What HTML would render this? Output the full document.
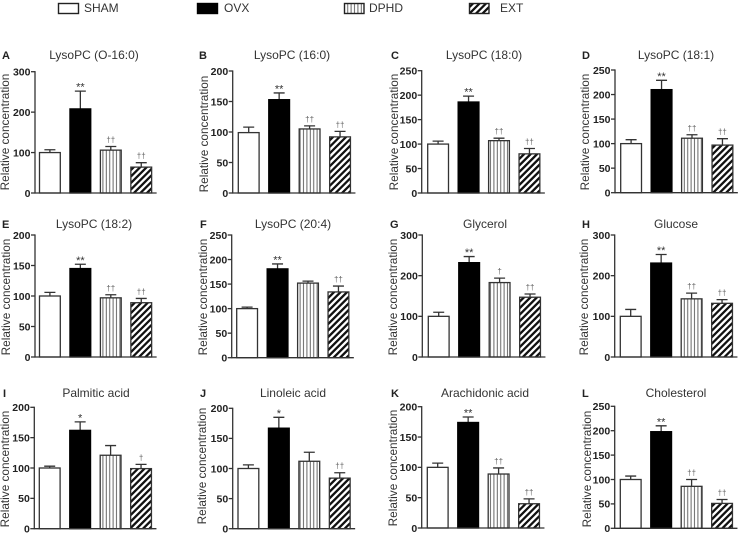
<!DOCTYPE html>
<html lang="en">
<head>
<meta charset="utf-8">
<title>Relative concentration panels</title>
<style>
html,body{margin:0;padding:0;background:#fff;}
svg{display:block;font-family:"Liberation Sans",sans-serif;}
.title{font-size:12px;fill:#333;text-anchor:middle;}
.letter{font-size:11px;font-weight:bold;fill:#222;}
.ytitle{font-size:11.8px;fill:#333;text-anchor:middle;}
.tick{font-size:10.5px;font-weight:bold;fill:#222;text-anchor:end;}
.legend{font-size:12px;fill:#333;}
.star{font-size:11px;fill:#333;text-anchor:middle;}
.dagger{font-size:8px;fill:#666;text-anchor:middle;}
</style>
</head>
<body>
<svg id="figure" width="740" height="534" viewBox="0 0 740 534" xmlns="http://www.w3.org/2000/svg">
<defs>
<pattern id="vstripes" patternUnits="userSpaceOnUse" width="3.4" height="4"><rect width="3.4" height="4" fill="#fff"/><rect x="0.4" width="1" height="4" fill="#666"/></pattern>
<pattern id="dstripes" patternUnits="userSpaceOnUse" width="4.6" height="6" patternTransform="rotate(45)"><rect width="4.6" height="6" fill="#fff"/><rect width="2.3" height="6" fill="#111"/></pattern>
</defs>

<g>
<g><rect x="58.5" y="3.5" width="20" height="10" fill="#fff" stroke="#222" stroke-width="1.4"/><text class="legend" x="84" y="12">SHAM</text></g>
<g><rect x="197.5" y="3.5" width="20" height="10" fill="#000" stroke="#000" stroke-width="1.4"/><text class="legend" x="224" y="12">OVX</text></g>
<g><rect x="344.5" y="3.5" width="19.5" height="10" fill="url(#vstripes)" stroke="#222" stroke-width="1.4"/><text class="legend" x="369" y="12">DPHD</text></g>
<g><rect x="469.5" y="3.5" width="19.5" height="10" fill="url(#dstripes)" stroke="#222" stroke-width="1.4"/><text class="legend" x="500" y="12">EXT</text></g>
</g>

<g id="panel-a"><text class="letter" x="2" y="59">A</text><text class="title" x="94" y="59">LysoPC (O-16:0)</text><text class="ytitle" transform="translate(9,132) rotate(-90)">Relative concentration</text></g>
<g id="panel-b"><text class="letter" x="199" y="59">B</text><text class="title" x="292" y="59">LysoPC (16:0)</text><text class="ytitle" transform="translate(208,134) rotate(-90)">Relative concentration</text></g>
<g id="panel-c"><text class="letter" x="391" y="59">C</text><text class="title" x="484" y="59">LysoPC (18:0)</text><text class="ytitle" transform="translate(398,132) rotate(-90)">Relative concentration</text></g>
<g id="panel-d"><text class="letter" x="582" y="59">D</text><text class="title" x="676" y="59">LysoPC (18:1)</text><text class="ytitle" transform="translate(589,132) rotate(-90)">Relative concentration</text></g>
<g id="panel-e"><text class="letter" x="2" y="228">E</text><text class="title" x="94" y="228">LysoPC (18:2)</text><text class="ytitle" transform="translate(10,297) rotate(-90)">Relative concentration</text></g>
<g id="panel-f"><text class="letter" x="200" y="228">F</text><text class="title" x="293" y="228">LysoPC (20:4)</text><text class="ytitle" transform="translate(207,297) rotate(-90)">Relative concentration</text></g>
<g id="panel-g"><text class="letter" x="390" y="228">G</text><text class="title" x="485" y="228">Glycerol</text><text class="ytitle" transform="translate(397,297) rotate(-90)">Relative concentration</text></g>
<g id="panel-h"><text class="letter" x="582" y="228">H</text><text class="title" x="676" y="228">Glucose</text><text class="ytitle" transform="translate(588,297) rotate(-90)">Relative concentration</text></g>
<g id="panel-i"><text class="letter" x="3" y="397">I</text><text class="title" x="96" y="397">Palmitic acid</text><text class="ytitle" transform="translate(9,469) rotate(-90)">Relative concentration</text></g>
<g id="panel-j"><text class="letter" x="200" y="397">J</text><text class="title" x="293" y="397">Linoleic acid</text><text class="ytitle" transform="translate(206,466) rotate(-90)">Relative concentration</text></g>
<g id="panel-k"><text class="letter" x="391" y="397">K</text><text class="title" x="485" y="397">Arachidonic acid</text><text class="ytitle" transform="translate(397,468) rotate(-90)">Relative concentration</text></g>
<g id="panel-l"><text class="letter" x="582" y="397">L</text><text class="title" x="676" y="397">Cholesterol</text><text class="ytitle" transform="translate(591,469) rotate(-90)">Relative concentration</text></g>
</svg>

<script>
// Data, one entry per panel (A to L)
const panelIds = ['a','b','c','d','e','f','g','h','i','j','k','l'];
const groups = ['sham','ovx','dphd','ext'];
const shamValues = [100, 99, 100, 100, 100, 100, 100, 100, 100, 100, 100, 100];
const ovxValues  = [208, 153, 186, 210, 145, 181, 232, 231, 162, 167, 174, 198];
const dphdValues = [106, 105, 107, 111, 97, 152, 183, 143, 121, 112, 89, 86];
const extValues  = [64, 92, 80, 97, 89, 134, 147, 132, 99, 84, 40, 51];
const shamErrors = [7, 9, 6, 8, 6, 3, 10, 17, 3, 6, 7, 7];
const ovxErrors  = [44, 11, 12, 19, 7, 10, 15, 21, 14, 18, 9, 12];
const dphdErrors = [9, 5, 5, 7, 5, 4, 11, 14, 16, 15, 10, 14];
const extErrors  = [11, 9, 11, 13, 7, 12, 8, 9, 7, 9, 8, 8];
const tickLabels = [
  [0,100,200,300],
  [0,50,100,150,200],
  [0,50,100,150,200,250],
  [0,50,100,150,200,250],
  [0,50,100,150,200],
  [0,50,100,150,200,250],
  [0,100,200,300],
  [0,100,200,300],
  [0,50,100,150,200],
  [0,50,100,150,200],
  [0,50,100,150,200],
  [0,50,100,150,200,250]
];
const ovxMarks  = ['**','**','**','**','**','**','**','**','*','*','**','**'];
const dphdMarks = ['††','††','††','††','††','','†','††','','','††','††'];
const extMarks  = ['††','††','††','††','††','††','††','††','†','††','††','††'];

// Frame geometry per panel (not data)
const frameAxisX  = [35, 232.7, 421.7, 615, 35, 231.7, 422.3, 614.7, 34.3, 232.7, 421.7, 614.7];
const frameTop    = [71.7, 71, 70.7, 70, 235, 235, 235, 235, 407.3, 408.3, 406.7, 406.3];
const frameBottom = [193, 193, 193, 192.7, 357, 357.7, 357, 357, 528.7, 528.7, 528, 528.3];
const frameBar0   = [39.5, 238.3, 427.7, 620.7, 39.5, 236.7, 428.3, 620.3, 39.3, 238, 427.3, 620.3];
const BAR_WIDTH = 20.8;
const BAR_STEP = 30.45;

const SVG_NS = 'http://www.w3.org/2000/svg';
const valueSeries = [shamValues, ovxValues, dphdValues, extValues];
const errorSeries = [shamErrors, ovxErrors, dphdErrors, extErrors];
const markSeries = [null, ovxMarks, dphdMarks, extMarks];
const barFills = ['#fff', '#000', 'url(#vstripes)', 'url(#dstripes)'];

function make(tag, attrs, parent) {
  const el = document.createElementNS(SVG_NS, tag);
  for (const k in attrs) el.setAttribute(k, attrs[k]);
  parent.appendChild(el);
  return el;
}

function yScale(p, value) {
  const labels = tickLabels[p];
  const maxValue = labels[labels.length - 1];
  return frameBottom[p] - (value / maxValue) * (frameBottom[p] - frameTop[p]);
}

function xBar(p, i) {
  return frameBar0[p] + i * BAR_STEP;
}

panelIds.forEach(function (id, p) {
  const host = document.getElementById('panel-' + id);
  const axisX = frameAxisX[p];
  const bottom = frameBottom[p];
  const axisEnd = xBar(p, 3) + BAR_WIDTH + 5;

  groups.forEach(function (group, i) {
    const v = valueSeries[i][p];
    const e = errorSeries[i][p];
    const x = xBar(p, i);
    const cx = x + BAR_WIDTH / 2;
    const yTop = yScale(p, v);
    const yErr = yScale(p, v + e);

    const err = make('path', {
      d: 'M' + cx + ' ' + yTop + 'V' + yErr + 'M' + (cx - 5.5) + ' ' + yErr + 'H' + (cx + 5.5),
      stroke: '#333', 'stroke-width': 1.3, fill: 'none'
    }, host);
    
    

    const bar = make('rect', {
      x: x, y: yTop, width: BAR_WIDTH, height: Math.max(0, bottom - yTop),
      fill: barFills[i], stroke: i === 1 ? '#000' : '#333', 'stroke-width': 1.3
    }, host);
    
    

    const marks = markSeries[i];
    if (marks && marks[p]) {
      const isStar = marks[p].indexOf('*') >= 0;
      const t = make('text', {
        x: cx, y: isStar ? yErr - 0.5 : yErr - 4, 'class': isStar ? 'star' : 'dagger'
      }, host);
      t.textContent = marks[p];
      
      
    }
  });

  const yAxis = make('line', {
    x1: axisX, x2: axisX, y1: frameTop[p] - 0.6, y2: bottom + 0.6, stroke: '#333', 'stroke-width': 1.3
  }, host);
  
  

  const xAxis = make('line', {
    x1: axisX, x2: axisEnd, y1: bottom, y2: bottom, stroke: '#333', 'stroke-width': 1.3
  }, host);
  
  

  tickLabels[p].forEach(function (label) {
    const y = yScale(p, label);
    const tick = make('line', {
      x1: axisX - 4, x2: axisX, y1: y, y2: y, stroke: '#333', 'stroke-width': 1.3
    }, host);
    
    

    const text = make('text', { x: axisX - 4.5, y: y + 3.8, 'class': 'tick' }, host);
    text.textContent = label;
    
    
  });
});
</script>
</body>
</html>
